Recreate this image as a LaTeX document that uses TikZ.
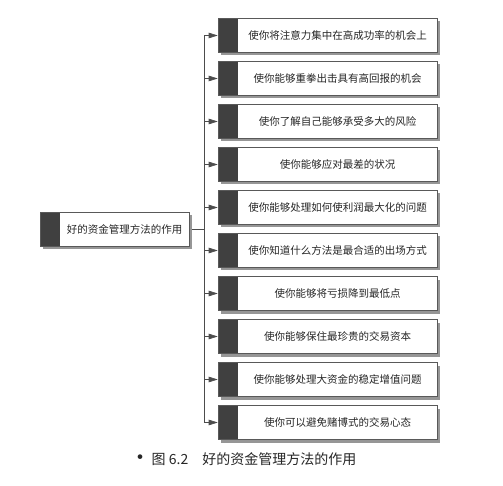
\documentclass[tikz,border=0pt]{standalone}
\usepackage{fontspec}
\newfontfamily\cjk{Noto Sans CJK SC}
\usepackage{xcolor}
\usetikzlibrary{shadows,arrows.meta}
\definecolor{stripgray}{RGB}{64,64,64}
\definecolor{shadowgray}{RGB}{150,150,150}
\tikzstyle{item}=[fill=white, draw=black!65, line width=0.6pt, shape=rectangle, minimum width=219pt, minimum height=34pt, inner sep=0pt, font=\cjk\fontsize{10.5}{12}\selectfont, text=black!85, drop shadow={shadow xshift=3pt, shadow yshift=-3pt, fill=shadowgray, opacity=1}, path picture={\fill[stripgray] (path picture bounding box.north west) rectangle ([xshift=20pt]path picture bounding box.south west);}, execute at begin node={\hspace*{20pt}}]
\tikzstyle{root}=[item, minimum width=149pt]
\tikzstyle{branch edge}=[draw=black!70, line width=0.6pt, -{Triangle[length=9pt,width=5.5pt]}]
\pgfdeclarelayer{nodelayer}
\pgfdeclarelayer{edgelayer}
\pgfsetlayers{edgelayer,main,nodelayer}

\begin{document}
\begin{tikzpicture}[x=1pt, y=1pt]
    \useasboundingbox (0,0) rectangle (503,-486);
    	\begin{pgfonlayer}{nodelayer}
    		\node [style=root] (r) at (114.5, -229) {好的资金管理方法的作用};
    		\node [style=item] (1) at (327.5, -35.5) {使你将注意力集中在高成功率的机会上};
    		\node [style=item] (2) at (327.5, -78.5) {使你能够重拳出击具有高回报的机会};
    		\node [style=item] (3) at (327.5, -121.5) {使你了解自己能够承受多大的风险};
    		\node [style=item] (4) at (327.5, -164.5) {使你能够应对最差的状况};
    		\node [style=item] (5) at (327.5, -207.5) {使你能够处理如何使利润最大化的问题};
    		\node [style=item] (6) at (327.5, -250.5) {使你知道什么方法是最合适的出场方式};
    		\node [style=item] (7) at (327.5, -293.5) {使你能够将亏损降到最低点};
    		\node [style=item] (8) at (327.5, -336.5) {使你能够保住最珍贵的交易资本};
    		\node [style=item] (9) at (327.5, -379.5) {使你能够处理大资金的稳定增值问题};
    		\node [style=item] (10) at (327.5, -422.5) {使你可以避免赌博式的交易心态};
    		\node [font=\cjk\fontsize{14}{16}\selectfont, text=black!85] (caption) at (243, -459) {{\fontsize{22}{16}\selectfont\raisebox{-1.5pt}{•}}图 6.2\quad 好的资金管理方法的作用};
    	\end{pgfonlayer}
    	\begin{pgfonlayer}{edgelayer}
    		\draw [style=branch edge] (r.east) -- ++(15,0) |- (1.west);
    		\draw [style=branch edge] (r.east) -- ++(15,0) |- (2.west);
    		\draw [style=branch edge] (r.east) -- ++(15,0) |- (3.west);
    		\draw [style=branch edge] (r.east) -- ++(15,0) |- (4.west);
    		\draw [style=branch edge] (r.east) -- ++(15,0) |- (5.west);
    		\draw [style=branch edge] (r.east) -- ++(15,0) |- (6.west);
    		\draw [style=branch edge] (r.east) -- ++(15,0) |- (7.west);
    		\draw [style=branch edge] (r.east) -- ++(15,0) |- (8.west);
    		\draw [style=branch edge] (r.east) -- ++(15,0) |- (9.west);
    		\draw [style=branch edge] (r.east) -- ++(15,0) |- (10.west);
    	\end{pgfonlayer}
    \end{tikzpicture}
\end{document}
